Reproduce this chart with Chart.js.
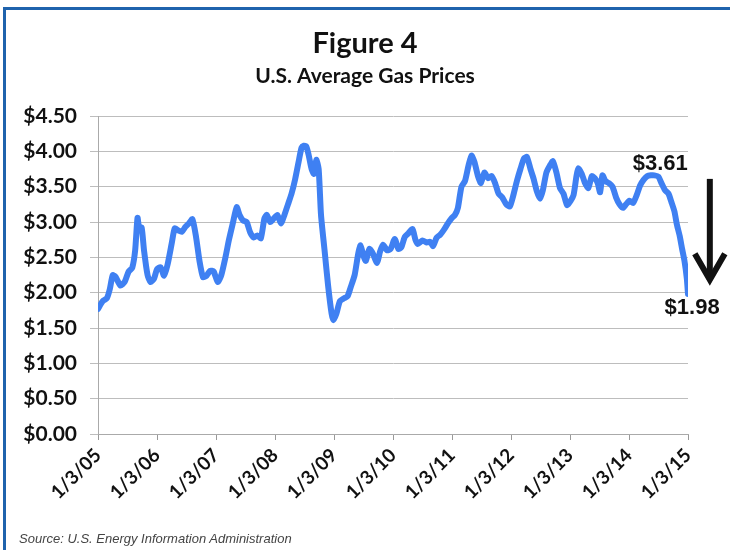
<!DOCTYPE html>
<html>
<head>
<meta charset="utf-8">
<script src="https://cdn.jsdelivr.net/npm/chart.js@4.4.0/dist/chart.umd.min.js"></script>
<style>
html, body { margin: 0; padding: 0; background: #fff; }
#wrap { position: relative; width: 730px; height: 550px; overflow: hidden; }
#frame { position: absolute; left: 3px; top: 7px; width: 800px; height: 600px;
         border-top: 3px solid #1f63ad; border-left: 3px solid #1f63ad; }
#gasChart { position: absolute; left: 0; top: 0; }
#source { position: absolute; left: 19px; top: 531px; color: #444;
          font: italic 13px "Liberation Sans", Arial, sans-serif; }
</style>
</head>
<body>
<div id="wrap">
  <div id="frame"></div>
  <canvas id="gasChart" width="730" height="550"></canvas>
  <div id="source">Source: U.S. Energy Information Administration</div>
</div>
<script>
// x tick labels, one per year (x = years since 1/3/05)
const yearTicks = ['1/3/05', '1/3/06', '1/3/07', '1/3/08', '1/3/09', '1/3/10',
                   '1/3/11', '1/3/12', '1/3/13', '1/3/14', '1/3/15'];

// position in years since 1/3/05, and price in $/gal
const weekPos = [
    0.00, 0.08, 0.15, 0.20, 0.25, 0.30, 0.38, 0.45, 0.52, 0.58, 0.63, 0.67, 0.70, 0.74, 0.78, 0.84, 0.89, 0.95,
    1.00, 1.06, 1.12, 1.18, 1.25, 1.30, 1.36, 1.42, 1.48, 1.54, 1.60, 1.66, 1.72, 1.78, 1.84, 1.90, 1.96,
    2.03, 2.09, 2.16, 2.22, 2.29, 2.35, 2.40, 2.46, 2.52, 2.58, 2.64, 2.70, 2.76, 2.82, 2.86, 2.92, 2.98,
    3.04, 3.10, 3.16, 3.22, 3.28, 3.34, 3.40, 3.45, 3.49, 3.53, 3.57, 3.62, 3.66, 3.70, 3.74, 3.78, 3.84, 3.90, 3.96, 3.99,
    4.04, 4.10, 4.17, 4.23, 4.28, 4.35, 4.41, 4.45, 4.50, 4.54, 4.60, 4.66, 4.73, 4.78, 4.83, 4.90, 4.96,
    5.03, 5.09, 5.14, 5.20, 5.26, 5.33, 5.38, 5.42, 5.50, 5.57, 5.63, 5.68, 5.74, 5.80, 5.87, 5.93, 5.99,
    6.05, 6.10, 6.16, 6.22, 6.28, 6.33, 6.38, 6.44, 6.49, 6.55, 6.61, 6.67, 6.73, 6.79, 6.85, 6.92, 6.98,
    7.04, 7.10, 7.16, 7.22, 7.27, 7.33, 7.38, 7.44, 7.49, 7.54, 7.60, 7.66, 7.71, 7.77, 7.83, 7.89, 7.95,
    8.01, 8.06, 8.11, 8.14, 8.20, 8.25, 8.31, 8.37, 8.42, 8.47, 8.51, 8.55, 8.60, 8.66, 8.72, 8.78, 8.84, 8.90, 8.95,
    9.01, 9.07, 9.13, 9.19, 9.25, 9.31, 9.37, 9.43, 9.50, 9.55, 9.61, 9.67, 9.72, 9.77, 9.81, 9.86, 9.90, 9.94, 9.98, 10.00
];
const avgPrice = [
    1.77, 1.88, 1.92, 2.05, 2.25, 2.22, 2.10, 2.15, 2.30, 2.35, 2.60, 3.06, 2.90, 2.92, 2.60, 2.25, 2.15, 2.20,
    2.33, 2.36, 2.24, 2.40, 2.70, 2.91, 2.88, 2.86, 2.93, 2.98, 3.04, 2.80, 2.45, 2.22, 2.24, 2.31, 2.30,
    2.15, 2.25, 2.50, 2.75, 3.00, 3.21, 3.10, 3.02, 3.00, 2.85, 2.78, 2.81, 2.77, 3.05, 3.10, 3.00, 3.05,
    3.10, 2.98, 3.10, 3.25, 3.40, 3.60, 3.85, 4.05, 4.08, 4.07, 3.95, 3.75, 3.68, 3.88, 3.75, 3.10, 2.60, 2.10, 1.70, 1.61,
    1.70, 1.88, 1.92, 1.95, 2.07, 2.25, 2.55, 2.67, 2.52, 2.45, 2.62, 2.55, 2.42, 2.58, 2.68, 2.60, 2.62,
    2.76, 2.62, 2.64, 2.79, 2.84, 2.90, 2.75, 2.69, 2.74, 2.71, 2.72, 2.66, 2.78, 2.82, 2.90, 2.98, 3.05,
    3.10, 3.20, 3.50, 3.58, 3.80, 3.94, 3.85, 3.65, 3.55, 3.70, 3.62, 3.65, 3.55, 3.40, 3.35, 3.25, 3.22,
    3.38, 3.58, 3.75, 3.90, 3.92, 3.75, 3.62, 3.43, 3.33, 3.45, 3.70, 3.80, 3.86, 3.70, 3.48, 3.40, 3.24,
    3.30, 3.38, 3.65, 3.76, 3.68, 3.56, 3.48, 3.65, 3.62, 3.55, 3.42, 3.66, 3.58, 3.55, 3.50, 3.35, 3.25, 3.20, 3.25,
    3.30, 3.27, 3.38, 3.52, 3.60, 3.65, 3.66, 3.66, 3.64, 3.55, 3.45, 3.40, 3.28, 3.15, 2.97, 2.80, 2.62, 2.45, 2.20, 1.98
];

// callouts, placed in data units
const calloutText = ['$3.61', '$1.98'];
const calloutX = [9.53, 10.07];
const calloutY = [3.82, 1.78];
const arrowX = 10.37;
const arrowTop = 3.61;
const arrowTip = 2.14;

const points = weekPos.map((x, i) => ({ x: x, y: avgPrice[i] }));

const calloutPlugin = {
    id: 'callouts',
    afterDraw(chart) {
        const ctx = chart.ctx;
        const xs = chart.scales.x, ys = chart.scales.y;
        ctx.save();
        ctx.fillStyle = '#111';
        ctx.font = 'bold 22px "Liberation Sans", Arial, sans-serif';
        ctx.textAlign = 'center';
        ctx.textBaseline = 'middle';
        calloutText.forEach((t, i) => {
            ctx.fillText(t, xs.getPixelForValue(calloutX[i]), ys.getPixelForValue(calloutY[i]));
        });

        // down arrow
        const ax = xs.getPixelForValue(arrowX);
        const y0 = ys.getPixelForValue(arrowTop);
        const y1 = ys.getPixelForValue(arrowTip);
        ctx.strokeStyle = '#111';
        ctx.lineWidth = 6;
        ctx.lineCap = 'butt';
        ctx.beginPath();
        ctx.moveTo(ax, y0);
        ctx.lineTo(ax, y1 - 3);
        ctx.stroke();
        ctx.lineJoin = 'miter';
        ctx.beginPath();
        ctx.moveTo(ax - 15, y1 - 29);
        ctx.lineTo(ax, y1 - 3);
        ctx.lineTo(ax + 15, y1 - 29);
        ctx.stroke();
        ctx.restore();
    }
};

new Chart(document.getElementById('gasChart'), {
    type: 'line',
    data: {
        datasets: [{
            label: 'U.S. Average Gas Prices',
            data: points,
            borderColor: '#3f80f2',
            borderWidth: 6,
            pointRadius: 0,
            tension: 0.2,
            borderCapStyle: 'round',
            borderJoinStyle: 'round',
            fill: false
        }]
    },
    options: {
        responsive: false,
        animation: false,
        layout: { padding: { left: 0, right: 0, top: 0, bottom: 26 } },
        plugins: {
            legend: { display: false },
            tooltip: { enabled: false },
            title: {
                display: true,
                text: 'Figure 4',
                color: '#111',
                font: { family: 'Lato', size: 29, weight: 'bold' },
                padding: { top: 26, bottom: 3 }
            },
            subtitle: {
                display: true,
                text: 'U.S. Average Gas Prices',
                color: '#111',
                font: { family: 'Lato', size: 21, weight: 'bold' },
                padding: { top: 0, bottom: 27 }
            }
        },
        scales: {
            x: {
                type: 'linear',
                min: 0,
                max: 10,
                afterFit(scale) { scale.height = 90; },
                ticks: {
                    stepSize: 1,
                    autoSkip: false,
                    maxRotation: 45,
                    minRotation: 45,
                    padding: 4,
                    color: '#111',
                    font: { family: 'Lato', size: 19, weight: 'bold' },
                    callback: v => yearTicks[v]
                },
                grid: { drawOnChartArea: false, tickLength: 6, color: '#999' },
                border: { color: '#aaa' }
            },
            y: {
                min: 0,
                max: 4.5,
                afterFit(scale) { scale.width = 98; },
                ticks: {
                    stepSize: 0.5,
                    color: '#111',
                    padding: 13,
                    font: { family: 'Lato', size: 21, weight: 'bold' },
                    callback: v => '$' + v.toFixed(2)
                },
                grid: { color: '#bdbdbd', tickLength: 8 },
                border: { color: '#aaa' }
            },
            // empty right-hand strip that holds the callouts and arrow
            rightGap: {
                position: 'right',
                afterFit(scale) { scale.width = 42; },
                ticks: { display: false },
                grid: { display: false },
                border: { display: false }
            }
        }
    },
    plugins: [calloutPlugin]
});
</script>
</body>
</html>
